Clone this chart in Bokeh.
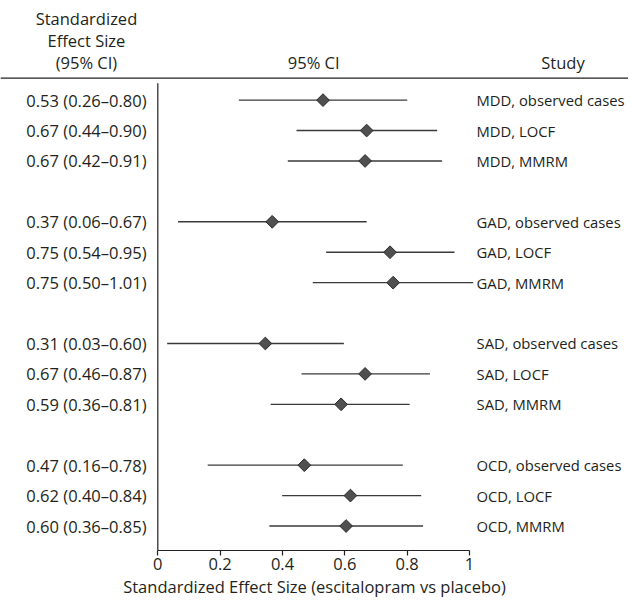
from bokeh.plotting import figure
from bokeh.models import Range1d, FixedTicker, Span, ColumnDataSource
from bokeh.core.properties import value
from bokeh.embed import file_html
from bokeh.resources import INLINE
import math

# ---------------- data ----------------
groups = ["MDD", "GAD", "SAD", "OCD"]
methods = ["observed cases", "LOCF", "MMRM"]
estimate = [0.53, 0.67, 0.665, 0.367, 0.745, 0.755, 0.345, 0.665, 0.588, 0.47, 0.618, 0.604]
ci_low = [0.26, 0.445, 0.417, 0.065, 0.54, 0.497, 0.03, 0.461, 0.362, 0.16, 0.399, 0.358]
ci_high = [0.80, 0.896, 0.912, 0.67, 0.952, 1.012, 0.597, 0.873, 0.808, 0.786, 0.845, 0.851]
effect_labels = [
    "0.53 (0.26\u20130.80)", "0.67 (0.44\u20130.90)", "0.67 (0.42\u20130.91)",
    "0.37 (0.06\u20130.67)", "0.75 (0.54\u20130.95)", "0.75 (0.50\u20131.01)",
    "0.31 (0.03\u20130.60)", "0.67 (0.46\u20130.87)", "0.59 (0.36\u20130.81)",
    "0.47 (0.16\u20130.78)", "0.62 (0.40\u20130.84)", "0.60 (0.36\u20130.85)",
]
x_ticks = [0, 0.2, 0.4, 0.6, 0.8, 1]
x_tick_labels = ["0", "0.2", "0.4", "0.6", "0.8", "1"]
header_left = ["Standardized", "Effect Size", "(95% CI)"]
header_mid = "95% CI"
header_right = "Study"
x_axis_title = "Standardized Effect Size (escitalopram vs placebo)"

# ---------------- layout helpers ----------------
rows, studies = [], []
for gi, g in enumerate(groups):
    for mi, m in enumerate(methods):
        rows.append(gi * (len(methods) + 1) + mi)
        studies.append(f"{g}, {m}")

FONT = value("Open Sans")
FS = "16.5px"
FS_STUDY = "14.8px"
TXT = "#231f20"

y_bottom = 14.805
y_top = -3.275
left_col_x = -0.229
mid_col_x = 0.5
study_head_x = 1.30
study_x = 1.0225
header_ys = [-2.686, -1.965, -1.245]
rule_y = -0.72
axis_top = -0.556

src = ColumnDataSource(dict(row=rows, est=estimate, lo=ci_low, hi=ci_high,
                            lab=effect_labels, study=studies))

p = figure(width=628, height=600, output_backend="svg", toolbar_location=None,
           x_range=Range1d(-0.5047, 1.5101), y_range=Range1d(y_bottom, y_top),
           y_axis_location=None,
           min_border_left=0, min_border_right=0, min_border_top=0, min_border_bottom=48)
p.grid.visible = False
p.outline_line_color = None
p.background_fill_color = "white"

# x axis
xa = p.xaxis[0]
xa.ticker = FixedTicker(ticks=x_ticks)
xa.major_label_overrides = {t: l for t, l in zip(x_ticks, x_tick_labels)}
xa.bounds = (0, 1)
xa.axis_line_color = "#231f20"
xa.axis_line_width = 1.2
xa.major_tick_line_color = "#231f20"
xa.major_tick_line_width = 1.2
xa.major_tick_in = 0
xa.major_tick_out = 5
xa.minor_tick_line_color = None
xa.major_label_standoff = 2
xa.major_label_text_font = "Open Sans"
xa.major_label_text_font_size = FS
xa.major_label_text_color = TXT
xa.axis_label = x_axis_title
xa.axis_label_text_font = "Open Sans"
xa.axis_label_text_font_size = FS
xa.axis_label_text_font_style = "normal"
xa.axis_label_text_color = TXT
xa.axis_label_standoff = 2

# vertical axis line at x = 0
p.segment(x0=[0], y0=[axis_top], x1=[0], y1=[y_bottom], line_color="#231f20", line_width=1.2)

# header rule
p.add_layout(Span(location=rule_y, dimension="width", line_color="#231f20", line_width=1.2))

# CI lines and point estimates
p.segment(x0="lo", y0="row", x1="hi", y1="row", source=src, line_color="#3a3a3a", line_width=1.4)
p.scatter(x="est", y="row", source=src, marker="square", size=9, angle=math.pi / 4,
          fill_color="#505050", line_color="#2a2a2a", line_width=1)

# text columns
p.text(x=left_col_x, y="row", text="lab", source=src, text_align="center",
       text_baseline="middle", text_font=FONT, text_font_size=FS, text_color=TXT)
p.text(x=study_x, y="row", text="study", source=src, text_align="left",
       text_baseline="middle", text_font=FONT, text_font_size=FS_STUDY, text_color=TXT)

# headers
p.text(x=[left_col_x] * 3, y=header_ys, text=header_left, text_align="center",
       text_baseline="middle", text_font=FONT, text_font_size=FS, text_color=TXT)
p.text(x=[mid_col_x], y=[header_ys[2]], text=[header_mid], text_align="center",
       text_baseline="middle", text_font=FONT, text_font_size=FS, text_color=TXT)
p.text(x=[study_head_x], y=[header_ys[2]], text=[header_right], text_align="center",
       text_baseline="middle", text_font=FONT, text_font_size=FS, text_color=TXT)

open("out.html", "w").write(file_html(p, INLINE))
